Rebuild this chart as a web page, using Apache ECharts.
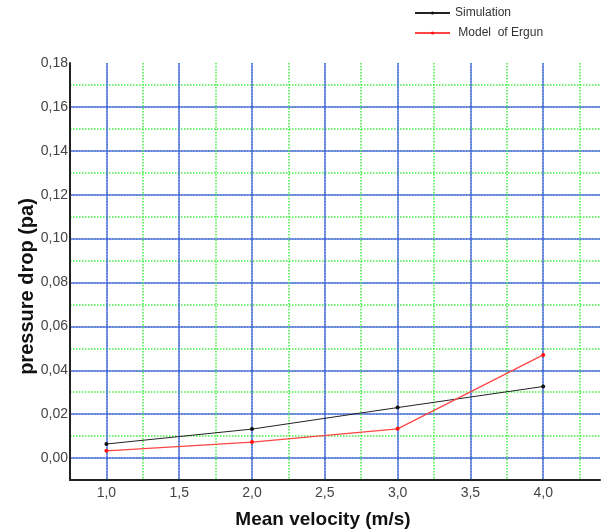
<!DOCTYPE html>
<html>
<head>
<meta charset="utf-8">
<script src="https://cdn.jsdelivr.net/npm/echarts@6/dist/echarts.min.js"></script>
<style>
  html, body { margin: 0; padding: 0; background: #fff; }
  #chart { width: 610px; height: 530px; }
</style>
</head>
<body>
<div id="chart"></div>
<script>
// values
var velocity = [1.0, 2.0, 3.0, 4.0]
var simulation = [0.0064, 0.0132, 0.0230, 0.0326]
var ergun = [0.0033, 0.0073, 0.0133, 0.0470]

var blue = 'rgba(50,50,255,0.7)'
var green = '#44ee44'
var fmtComma = function (v, digits) {
  return v.toFixed(digits).replace('.', ',')
}

var chart = echarts.init(document.getElementById('chart'))

var xBase = {
  type: 'value',
  min: 0.75,
  max: 4.39,
  interval: 0.25,
  axisTick: { show: false }
}
var yBase = {
  type: 'value',
  min: -0.01,
  max: 0.18,
  interval: 0.01,
  axisTick: { show: false }
}

chart.setOption({
  animation: false,
  grid: { left: 70, top: 63, right: 10, bottom: 50, outerBoundsMode: 'none', containLabel: false },
  legend: {
    orient: 'vertical',
    left: 409,
    top: 2,
    itemWidth: 35,
    itemHeight: 4,
    itemGap: 8,
    textStyle: { fontFamily: 'Liberation Sans', fontSize: 12, color: '#333' },
    data: ['Simulation', ' Model  of Ergun']
  },
  xAxis: [
    Object.assign({}, xBase, {
      name: 'Mean velocity (m/s)',
      nameLocation: 'middle',
      nameGap: 30,
      nameMoveOverlap: false,
      nameTextStyle: { fontFamily: 'Liberation Sans', fontSize: 19, fontWeight: 'bold', color: '#111', padding: [0, 24, 0, 0] },
      axisLine: { show: true, onZero: false, lineStyle: { color: '#222', width: 2 } },
      axisLabel: {
        margin: 6,
        fontFamily: 'Liberation Sans',
        fontSize: 14,
        color: '#444',
        formatter: function (v) {
          var h = Math.round(v * 100)
          return h % 50 === 0 ? fmtComma(v, 1) : ''
        }
      },
      splitLine: { show: true, showMinLine: false, showMaxLine: false, lineStyle: { color: green, type: 'dotted', width: 1.5 } }
    }),
    Object.assign({}, xBase, {
      axisLine: { show: false, onZero: false },
      axisLabel: { show: false },
      splitLine: { show: true, showMinLine: false, showMaxLine: false, lineStyle: { color: [blue, 'rgba(0,0,0,0)'], width: 1.5 } }
    })
  ],
  yAxis: [
    Object.assign({}, yBase, {
      name: 'pressure drop (pa)',
      nameLocation: 'middle',
      nameGap: 33,
      nameMoveOverlap: false,
      nameTextStyle: { fontFamily: 'Liberation Sans', fontSize: 20, fontWeight: 'bold', color: '#111', padding: [0, 30, 0, 0] },
      axisLine: { show: true, onZero: false, lineStyle: { color: '#222', width: 2 } },
      axisLabel: {
        margin: 2,
        fontFamily: 'Liberation Sans',
        fontSize: 14,
        color: '#444',
        formatter: function (v) {
          var h = Math.round(v * 100)
          return h >= 0 && h % 2 === 0 ? fmtComma(v, 2) : ''
        }
      },
      splitLine: { show: true, showMinLine: false, showMaxLine: false, lineStyle: { color: green, type: 'dotted', width: 1.5 } }
    }),
    Object.assign({}, yBase, {
      axisLine: { show: false, onZero: false },
      axisLabel: { show: false },
      splitLine: { show: true, showMinLine: false, showMaxLine: false, lineStyle: { color: [blue, 'rgba(0,0,0,0)'], width: 1.5 } }
    })
  ],
  series: [
    {
      name: 'Simulation',
      type: 'line',
      xAxisIndex: 0,
      yAxisIndex: 0,
      symbol: 'circle',
      symbolSize: 4,
      z: 5,
      itemStyle: { color: '#111' },
      lineStyle: { color: '#222', width: 1 },
      data: velocity.map(function (x, i) { return [x, simulation[i]] })
    },
    {
      name: ' Model  of Ergun',
      type: 'line',
      xAxisIndex: 0,
      yAxisIndex: 0,
      symbol: 'circle',
      symbolSize: 4,
      z: 5,
      itemStyle: { color: '#ff1111' },
      lineStyle: { color: '#ff4444', width: 1.2 },
      data: velocity.map(function (x, i) { return [x, ergun[i]] })
    }
  ]
})
</script>
</body>
</html>
